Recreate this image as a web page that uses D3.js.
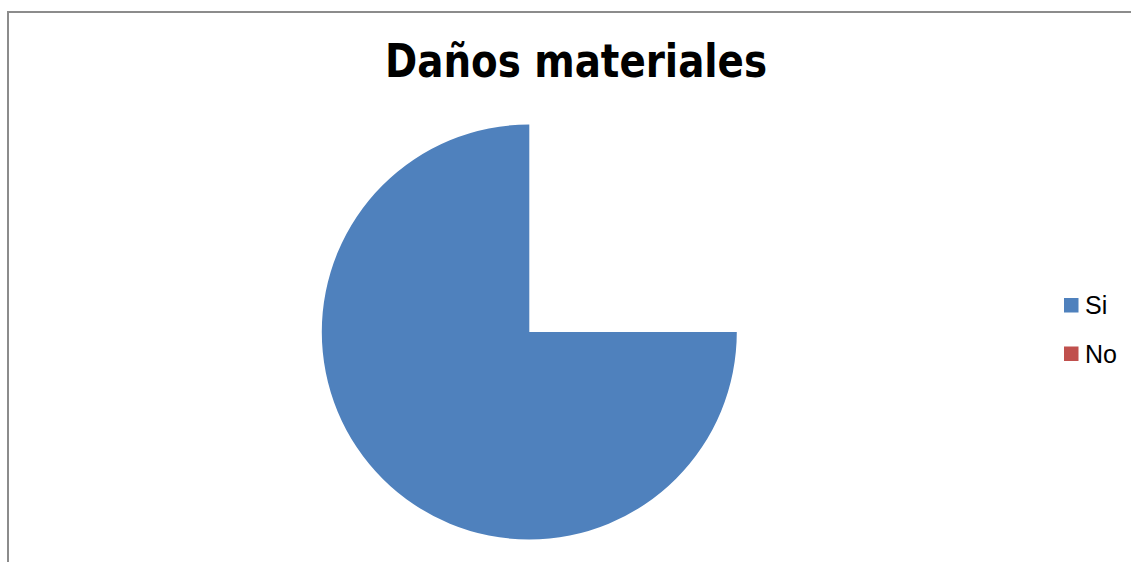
<!DOCTYPE html>
<html><head><meta charset="utf-8">
<script src="https://cdn.jsdelivr.net/npm/d3@7/dist/d3.min.js"></script>
<style>html,body{margin:0;padding:0;background:#fff;}</style>
</head><body>
<svg id="chart" width="1131" height="562"></svg>
<script>
const title = "Daños materiales";
// Slices in drawing order from 12 o'clock clockwise; the first is an unlabelled, unfilled part
const categories = ["", "Si", "No"];
const values = [25, 75, 0];
const colors = ["none", "#4F81BD", "#C0504D"];
const legendCategories = ["Si", "No"];

const svg = d3.select("#chart");
svg.append("rect").attr("x", 8).attr("y", 12).attr("width", 1130).attr("height", 560)
  .attr("fill", "#fff").attr("stroke", "#8c8c8c").attr("stroke-width", 2);

svg.append("text").attr("x", 576).attr("y", 77).attr("text-anchor", "middle")
  .attr("font-family", "'DejaVu Sans Condensed', 'DejaVu Sans', sans-serif")
  .attr("font-weight", "bold").attr("font-size", 46)
  .attr("textLength", 382).attr("lengthAdjust", "spacingAndGlyphs")
  .attr("fill", "#000").text(title);

const data = categories.map((c, i) => ({cat: c, value: values[i], color: colors[i]}));
const pie = d3.pie().sort(null).value(d => d.value);
const arc = d3.arc().innerRadius(0).outerRadius(207.5);
const g = svg.append("g").attr("transform", "translate(529.3,332)");
g.selectAll("path").data(pie(data)).join("path")
  .attr("d", arc).attr("fill", d => d.data.color).attr("stroke", "none");

const color = d3.scaleOrdinal().domain(categories).range(colors);
const leg = svg.append("g");
legendCategories.forEach((c, i) => {
  const y = 298 + i * 48.5;
  leg.append("rect").attr("x", 1064).attr("y", y).attr("width", 14.5).attr("height", 14.5)
    .attr("fill", color(c));
  leg.append("text").attr("x", 1085).attr("y", y + 16)
    .attr("font-family", "'Liberation Sans', Arial, sans-serif").attr("font-size", 25)
    .attr("fill", "#000").text(c);
});
</script>
</body></html>
